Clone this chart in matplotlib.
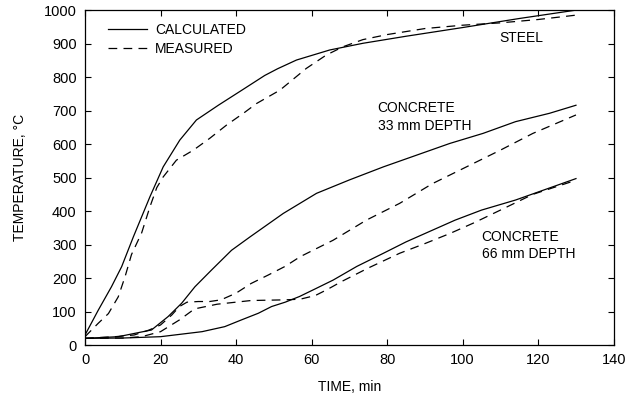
import matplotlib
matplotlib.use("Agg")
import matplotlib.pyplot as plt

plt.rcParams['font.family'] = ['Liberation Sans', 'DejaVu Sans']
plt.rcParams['font.size'] = 10

# Steel
steel_calc_t = [0, 3.5, 7, 9.7, 12.8, 17.2, 20.7, 25.1, 29.5, 35.3, 41.4, 47.6, 51, 56,
                64.8, 73.6, 85, 100, 115, 130]
steel_calc_T = [30, 104, 174, 234, 323, 443, 532, 612, 672, 716, 760, 805, 825, 851,
                881, 901, 922, 948, 975, 1000]
steel_meas_t = [0, 3.5, 6.2, 8.8, 10.6, 12.3, 15, 17.2, 19, 20.7, 24.2, 28.7, 33, 37.5,
                42.3, 45.4, 51.6, 58.6, 63.9, 68.4, 73.6, 80, 90, 100, 110, 120, 130]
steel_meas_T = [25, 65, 94, 144, 204, 270, 335, 413, 470, 502, 552, 582, 617, 657,
                695, 721, 761, 826, 866, 891, 912, 927, 945, 955, 962, 972, 985]

# Concrete, 33 mm depth
c33_calc_t = [0, 8.8, 17.6, 22, 25.6, 29.1, 33.5, 38.8, 43.7, 52.5, 61.3, 70, 79,
              87.8, 96.6, 105.4, 114, 123, 130]
c33_calc_T = [20, 25, 45, 85, 125, 174, 224, 283, 323, 393, 453, 493, 532,
              567, 602, 632, 667, 692, 716]
c33_meas_t = [0, 8, 13, 17, 20, 23, 25, 27, 30, 33, 36, 40, 44, 48.5, 53, 57, 65.7, 74.5,
              83.3, 92, 101, 110, 118.6, 130]
c33_meas_T = [20, 25, 30, 45, 60, 90, 115, 128, 130, 130, 135, 155, 184, 209, 235, 264, 313, 373,
              423, 482, 532, 582, 632, 687]

# Concrete, 66 mm depth
c66_calc_t = [0, 10, 20, 31, 37, 41.4, 45.9, 49.4, 53, 56.8, 61, 65.7, 72, 79, 85, 92,
              98, 105, 114, 122, 130]
c66_calc_T = [20, 21, 25, 40, 55, 75, 95, 115, 128, 145, 168, 194, 235, 274, 308, 343,
              373, 403, 433, 465, 497]
c66_meas_t = [0, 10, 15, 20, 25, 29, 35, 44, 53, 57, 61, 64, 68, 75, 83.3, 90, 96.6, 103,
              110, 118.6, 124, 130]
c66_meas_T = [20, 21, 25, 40, 75, 108, 122, 133, 135, 137, 148, 165, 190, 230, 274, 303, 333, 365,
              403, 450, 470, 492]

fig = plt.figure(figsize=(6.44, 4.05), dpi=100)
ax = fig.add_axes([0.132, 0.148, 0.821, 0.827])

dash = (0, (7, 5))
lw = 0.9
ax.plot(steel_calc_t, steel_calc_T, color='black', lw=lw, label='CALCULATED')
ax.plot(steel_meas_t, steel_meas_T, color='black', lw=lw, linestyle=dash, label='MEASURED')
ax.plot(c33_calc_t, c33_calc_T, color='black', lw=lw)
ax.plot(c33_meas_t, c33_meas_T, color='black', lw=lw, linestyle=dash)
ax.plot(c66_calc_t, c66_calc_T, color='black', lw=lw)
ax.plot(c66_meas_t, c66_meas_T, color='black', lw=lw, linestyle=dash)

ax.text(109.8, 916, 'STEEL', va='center', ha='left')
ax.text(77.5, 728, 'CONCRETE\n33 mm DEPTH', va='top', ha='left', linespacing=1.3)
ax.text(105, 345, 'CONCRETE\n66 mm DEPTH', va='top', ha='left', linespacing=1.3)

ax.set_xlim(0, 140)
ax.set_ylim(0, 1000)
ax.set_xticks(range(0, 141, 20))
ax.set_yticks(range(0, 1001, 100))
ax.tick_params(direction='in', top=True, right=True, length=4, width=0.8, labelsize=10.5, pad=6)
for s in ax.spines.values():
    s.set_linewidth(0.9)

ax.set_xlabel('TIME, min', labelpad=9)
ax.set_ylabel('TEMPERATURE, °C', labelpad=12)

ax.legend(loc='upper left', frameon=False, handlelength=2.8, handletextpad=0.6,
          bbox_to_anchor=(0.025, 0.99), borderaxespad=0.3, labelspacing=0.35)

fig.savefig('out.png', dpi=100)
